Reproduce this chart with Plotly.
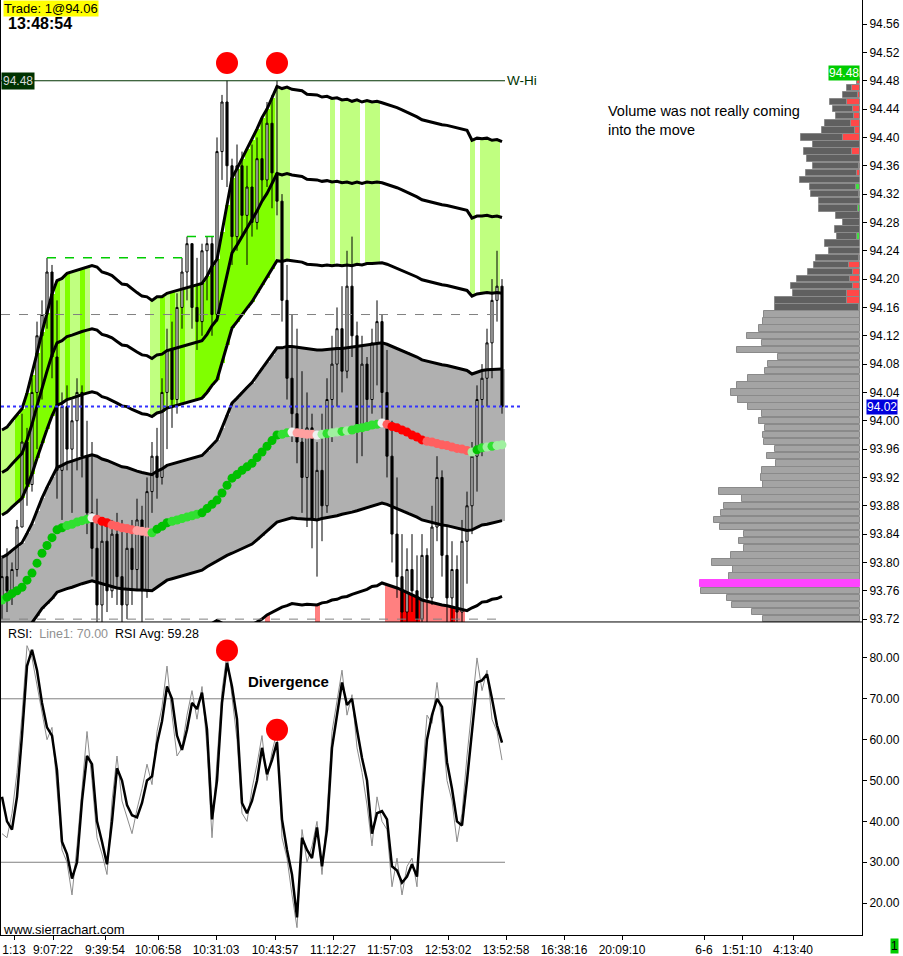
import plotly.graph_objects as go

FONT = 'Liberation Sans'

# ---------------- price bars (one per bar index) ----------------
opens = [93.75, 93.78, 93.76, 93.79, 93.85, 93.97, 93.91, 94.04, 94.12, 94.15,
         94.21, 94.09, 93.93, 94.02, 93.96, 94.00, 94.04, 93.95, 93.87, 93.82,
         93.74, 93.83, 93.76, 93.84, 93.78, 93.74, 93.82, 93.79, 93.86, 93.76,
         93.90, 93.95, 93.92, 94.04, 94.10, 94.03, 94.16, 94.21, 94.25, 94.16,
         94.14, 94.24, 94.25, 94.15, 94.38, 94.45, 94.36, 94.26, 94.36, 94.29,
         94.33, 94.28, 94.37, 94.34, 94.42, 94.35, 94.31, 94.17, 94.06, 94.01,
         93.97, 93.92, 93.99, 93.86, 93.93, 93.88, 94.03, 94.08, 94.13, 94.07,
         94.19, 94.12, 93.99, 94.08, 94.03, 94.11, 94.14, 94.04, 93.95, 93.84,
         93.78, 93.73, 93.79, 93.76, 93.72, 93.81, 93.75, 93.85, 93.92, 93.81,
         93.75, 93.79, 93.73, 93.83, 93.88, 93.95, 94.03, 94.06, 94.11, 94.17,
         94.19]
highs = [93.81, 93.82, 93.80, 93.86, 94.01, 93.99, 94.06, 94.14, 94.17, 94.23,
         94.22, 94.17, 94.04, 94.05, 94.03, 94.06, 94.05, 94.00, 93.97, 93.89,
         93.86, 93.86, 93.86, 93.87, 93.86, 93.85, 93.86, 93.89, 93.88, 93.92,
         93.97, 93.99, 94.06, 94.13, 94.14, 94.18, 94.23, 94.26, 94.25, 94.23,
         94.25, 94.26, 94.26, 94.40, 94.46, 94.48, 94.37, 94.39, 94.38, 94.36,
         94.39, 94.40, 94.43, 94.45, 94.46, 94.48, 94.32, 94.22, 94.15, 94.13,
         94.07, 94.04, 94.01, 93.97, 94.01, 94.06, 94.12, 94.16, 94.19, 94.24,
         94.26, 94.14, 94.12, 94.09, 94.13, 94.17, 94.15, 94.10, 94.00, 93.92,
         93.84, 93.82, 93.84, 93.81, 93.84, 93.82, 93.88, 93.95, 93.93, 93.85,
         93.83, 93.81, 93.86, 93.90, 93.97, 94.05, 94.08, 94.13, 94.20, 94.24,
         94.20]
lows = [93.72, 93.73, 93.74, 93.78, 93.85, 93.88, 93.90, 93.96, 94.03, 94.13,
        94.06, 93.89, 93.86, 93.93, 93.87, 93.93, 93.92, 93.84, 93.78, 93.70,
        93.70, 93.73, 93.75, 93.74, 93.70, 93.72, 93.74, 93.76, 93.70, 93.75,
        93.87, 93.89, 93.91, 93.96, 93.99, 94.01, 94.13, 94.17, 94.13, 94.10,
        94.12, 94.17, 94.12, 94.14, 94.34, 94.33, 94.22, 94.24, 94.26, 94.22,
        94.26, 94.27, 94.31, 94.33, 94.30, 94.29, 94.14, 94.03, 93.97, 93.94,
        93.87, 93.85, 93.82, 93.78, 93.83, 93.87, 93.97, 94.02, 94.04, 94.06,
        94.09, 93.94, 93.95, 93.99, 94.01, 94.05, 94.00, 93.92, 93.80, 93.75,
        93.70, 93.70, 93.73, 93.70, 93.71, 93.70, 93.74, 93.83, 93.78, 93.71,
        93.70, 93.70, 93.71, 93.77, 93.84, 93.90, 93.95, 94.02, 94.06, 94.14,
        94.01]
closes = [93.78, 93.76, 93.79, 93.85, 93.97, 93.91, 94.04, 94.12, 94.15, 94.21,
          94.09, 93.93, 94.02, 93.96, 94.00, 94.04, 93.95, 93.87, 93.82, 93.74,
          93.83, 93.76, 93.84, 93.78, 93.74, 93.82, 93.79, 93.86, 93.76, 93.90,
          93.95, 93.92, 94.04, 94.10, 94.03, 94.16, 94.21, 94.25, 94.16, 94.14,
          94.24, 94.25, 94.15, 94.38, 94.45, 94.36, 94.26, 94.36, 94.29, 94.33,
          94.28, 94.37, 94.34, 94.42, 94.35, 94.31, 94.17, 94.06, 94.01, 93.97,
          93.92, 93.99, 93.86, 93.93, 93.88, 94.03, 94.08, 94.13, 94.07, 94.19,
          94.12, 93.99, 94.08, 94.03, 94.11, 94.14, 94.04, 93.95, 93.84, 93.78,
          93.73, 93.79, 93.76, 93.72, 93.81, 93.75, 93.85, 93.92, 93.81, 93.75,
          93.79, 93.73, 93.83, 93.88, 93.95, 94.03, 94.06, 94.11, 94.17, 94.19,
          94.02]

# VWAP and its standard deviation (one value per bar)
vwap = [93.747, 93.751, 93.756, 93.760, 93.765, 93.775, 93.785, 93.799, 93.813, 93.824,
        93.835, 93.846, 93.849, 93.852, 93.854, 93.857, 93.859, 93.861, 93.863, 93.861,
        93.858, 93.856, 93.853, 93.851, 93.849, 93.848, 93.846, 93.845, 93.844, 93.843,
        93.842, 93.847, 93.851, 93.856, 93.858, 93.860, 93.862, 93.864, 93.866, 93.868,
        93.870, 93.876, 93.882, 93.888, 93.898, 93.909, 93.919, 93.924, 93.930, 93.935,
        93.940, 93.948, 93.956, 93.964, 93.972, 93.980, 93.981, 93.983, 93.984, 93.983,
        93.982, 93.981, 93.981, 93.980, 93.981, 93.982, 93.983, 93.984, 93.985, 93.986,
        93.987, 93.989, 93.990, 93.992, 93.994, 93.995, 93.997, 93.995, 93.992, 93.990,
        93.987, 93.984, 93.980, 93.977, 93.973, 93.971, 93.970, 93.968, 93.966, 93.965,
        93.963, 93.961, 93.960, 93.958, 93.956, 93.959, 93.962, 93.963, 93.964, 93.965,
        93.966]
vwap_sd = [0.060, 0.060, 0.061, 0.062, 0.063, 0.066, 0.070, 0.074, 0.078, 0.082,
           0.086, 0.088, 0.088, 0.089, 0.089, 0.089, 0.089, 0.089, 0.089, 0.089,
           0.088, 0.088, 0.088, 0.087, 0.086, 0.086, 0.085, 0.084, 0.083, 0.083,
           0.082, 0.082, 0.081, 0.081, 0.081, 0.081, 0.081, 0.081, 0.081, 0.081,
           0.081, 0.082, 0.084, 0.085, 0.092, 0.099, 0.106, 0.108, 0.110, 0.112,
           0.114, 0.116, 0.118, 0.119, 0.121, 0.123, 0.122, 0.122, 0.121, 0.121,
           0.121, 0.120, 0.120, 0.120, 0.119, 0.119, 0.118, 0.118, 0.117, 0.117,
           0.116, 0.116, 0.115, 0.115, 0.114, 0.114, 0.113, 0.113, 0.113, 0.113,
           0.113, 0.113, 0.113, 0.113, 0.113, 0.113, 0.113, 0.113, 0.113, 0.113,
           0.113, 0.113, 0.113, 0.113, 0.110, 0.110, 0.109, 0.109, 0.108, 0.108,
           0.107]

# band zone state per bar: 0 none, 1 weak, 2 strong
zone_up = [1, 1, 1, 2, 2, 2, 2, 2, 2, 2,
           2, 2, 1, 2, 1, 1, 2, 1, 0, 0,
           0, 0, 0, 0, 0, 0, 0, 0, 0, 0,
           1, 1, 2, 1, 2, 1, 2, 1, 1, 2,
           2, 2, 2, 2, 2, 2, 2, 2, 2, 2,
           2, 2, 2, 2, 2, 1, 1, 1, 0, 0,
           0, 0, 0, 0, 0, 0, 1, 0, 1, 1,
           1, 1, 0, 1, 1, 1, 0, 0, 0, 0,
           0, 0, 0, 0, 0, 0, 0, 0, 0, 0,
           0, 0, 0, 0, 1, 0, 1, 1, 1, 1,
           0]
zone_dn = [0, 0, 0, 0, 0, 0, 0, 0, 0, 0,
           0, 0, 0, 0, 0, 0, 0, 0, 0, 0,
           0, 0, 0, 0, 0, 0, 0, 0, 0, 0,
           0, 0, 0, 0, 0, 0, 0, 0, 0, 0,
           0, 0, 0, 0, 0, 0, 0, 0, 0, 0,
           0, 0, 0, 1, 0, 0, 0, 0, 0, 0,
           0, 0, 0, 1, 0, 0, 0, 0, 0, 0,
           0, 0, 0, 0, 0, 0, 0, 1, 1, 1,
           2, 2, 2, 2, 1, 1, 1, 1, 1, 1,
           2, 1, 1, 0, 0, 0, 0, 0, 0, 0,
           0]

# RSI pane
rsi_raw = [37, 36, 42, 52, 66, 83, 80, 73, 66, 60,
           63, 48, 33, 30, 22, 34, 48, 62, 50, 36,
           32, 27, 45, 56, 45, 41, 37, 43, 48, 54,
           49, 62, 68, 78, 66, 56, 58, 66, 72, 65,
           73, 58, 36, 55, 72, 81, 70, 60, 42, 40,
           48, 54, 61, 50, 57, 62, 36, 31, 22, 14,
           38, 30, 34, 40, 27, 42, 62, 70, 77, 66,
           71, 58, 52, 44, 34, 46, 40, 38, 24, 31,
           22, 29, 31, 24, 50, 66, 64, 74, 64, 50,
           45, 35, 42, 56, 68, 80, 72, 77, 65, 62,
           55]
rsi_avg = [46, 40, 38, 46, 61, 78, 82, 77, 69, 63,
           61, 52.5, 35, 32, 26, 30, 45, 56, 54, 40,
           35, 29.5, 40, 53, 50, 44, 41.5, 41, 44.5, 50,
           51, 59, 64.5, 73, 70, 61, 57.5, 62.5, 69, 67.5,
           71.5, 62.5, 40.5, 50, 69, 78.8, 73, 65, 44.5, 42,
           45, 50, 58, 51.5, 55, 59.4, 40.5, 33, 27, 16.5,
           36, 33, 31, 38.5, 29, 38, 58, 66.5, 74, 68.5,
           70, 62.5, 55.5, 50, 37, 42, 42.5, 40.5, 29, 28,
           25, 26.5, 29.5, 26.5, 45, 60, 66, 70, 68, 54.5,
           48, 40, 39, 50, 62, 74, 74.5, 76, 70, 63.5,
           59.28]
rsi_levels = [70, 30]

# swing highs that were extended until broken
swing_bars = [9, 37]
swing_ends = [37, 43]
divergence_bars = [45, 55]

# volume profile
vp_prices = [94.48, 94.47, 94.46, 94.45, 94.44, 94.43, 94.42, 94.41, 94.40, 94.39,
             94.38, 94.37, 94.36, 94.35, 94.34, 94.33, 94.32, 94.31, 94.30, 94.29,
             94.28, 94.27, 94.26, 94.25, 94.24, 94.23, 94.22, 94.21, 94.20, 94.19,
             94.18, 94.17, 94.16, 94.15, 94.14, 94.13, 94.12, 94.11, 94.10, 94.09,
             94.08, 94.07, 94.06, 94.05, 94.04, 94.03, 94.02, 94.01, 94.00, 93.99,
             93.98, 93.97, 93.96, 93.95, 93.94, 93.93, 93.92, 93.91, 93.90, 93.89,
             93.88, 93.87, 93.86, 93.85, 93.84, 93.83, 93.82, 93.81, 93.80, 93.79,
             93.78, 93.77, 93.76, 93.75, 93.74, 93.73, 93.72]
vp_volume = [3, 13, 17, 30, 27, 24, 35, 38, 59, 47,
             56, 53, 47, 54, 60, 50, 49, 41, 41, 24,
             17, 25, 23, 35, 31, 44, 46, 52, 63, 69,
             67, 85, 85, 96, 97, 101, 113, 98, 123, 82,
             92, 95, 112, 123, 129, 122, 112, 98, 101, 95,
             97, 96, 85, 93, 84, 98, 99, 97, 141, 118,
             136, 139, 146, 140, 116, 121, 116, 129, 148, 127,
             131, 160, 159, 133, 128, 108, 97]
vp_delta = [-3, -8, -2, -13, -7, -6, -9, -5, -17, 0,
            -8, 0, -1, -3, 0, 4, 1, 0, 2, 0,
            0, 0, 3, 0, 0, -1, -11, -7, -10, -7,
            -13, -13, 1, 0, 0, 0, 0, 0, 0, 0,
            0, 0, 0, 0, 0, 0, 0, 0, 0, 0,
            0, 0, 0, 0, 0, 0, 0, 0, 0, 0,
            0, 0, 0, 0, 0, 0, 0, 0, 0, 0,
            0, 0, 0, 0, 0, 0, 0]
value_area = [94.15, 93.72]

xtick_bars = [2.4, 10.2, 20.6, 31.2, 42.8, 54.6, 66.2, 77.6, 89.2, 100.8,
              112.4, 124.0, 140.4, 148.0, 158.2]
xtick_labels = ['1:13', '9:07:22', '9:39:54', '10:06:58', '10:31:03', '10:43:57',
                '11:12:27', '11:57:03', '12:53:02', '13:52:58', '16:38:16', '20:09:10',
                '6-6', '1:51:10', '4:13:40']

# ---------------- build figure ----------------
n = len(closes)
bars = list(range(n))
x_first, x_last = bars[0] - 0.2, bars[-1] + 0.6
session_high = max(highs)
last_price = closes[-1]

bands = {k: [c + k * s for c, s in zip(vwap, vwap_sd)] for k in (-4, -3, -2, -1, 1, 2, 3, 4)}

fig = go.Figure()

# zone shading between +2/+4 and -2/-4
up_colors = {1: '#c0ff80', 2: '#80ff00'}
dn_colors = {1: '#ff8080', 2: '#ff0000'}
fig.add_trace(go.Bar(
    x=bars, y=[2 * s if z else None for s, z in zip(vwap_sd, zone_up)], base=bands[2],
    width=1, marker=dict(color=[up_colors.get(z, 'white') for z in zone_up], line_width=0),
    hoverinfo='skip', showlegend=False))
fig.add_trace(go.Bar(
    x=bars, y=[2 * s if z else None for s, z in zip(vwap_sd, zone_dn)], base=bands[-4],
    width=1, marker=dict(color=[dn_colors.get(z, 'white') for z in zone_dn], line_width=0),
    hoverinfo='skip', showlegend=False))
# gray fill between the 1 sd bands
fig.add_trace(go.Bar(
    x=bars, y=[2 * s for s in vwap_sd], base=bands[-1], width=1,
    marker=dict(color='#b0b0b0', line_width=0), hoverinfo='skip', showlegend=False))

# candles
fig.add_trace(go.Candlestick(
    x=bars, open=opens, high=highs, low=lows, close=closes,
    increasing=dict(line=dict(color='black', width=1), fillcolor='white'),
    decreasing=dict(line=dict(color='black', width=1), fillcolor='black'),
    whiskerwidth=0, showlegend=False, hoverinfo='skip'))

# band lines
for k, vals in bands.items():
    fig.add_trace(go.Scatter(x=bars, y=vals, mode='lines', line=dict(color='black', width=3),
                             hoverinfo='skip', showlegend=False))

# horizontal reference lines
fig.add_trace(go.Scatter(x=[x_first, x_last], y=[session_high] * 2, mode='lines',
                         line=dict(color='#003300', width=1), showlegend=False, hoverinfo='skip'))
for lvl in value_area:
    fig.add_trace(go.Scatter(x=[x_first, x_last], y=[lvl] * 2, mode='lines',
                             line=dict(color='#808080', width=1, dash='dash'),
                             showlegend=False, hoverinfo='skip'))
fig.add_trace(go.Scatter(x=[x_first, x_last + 3.6], y=[last_price] * 2, mode='lines',
                         line=dict(color='#3333ff', width=2, dash='dot'),
                         showlegend=False, hoverinfo='skip'))
for b, e in zip(swing_bars, swing_ends):
    fig.add_trace(go.Scatter(x=[b, e], y=[highs[b]] * 2, mode='lines',
                             line=dict(color='#00cc00', width=1.5, dash='dash'),
                             showlegend=False, hoverinfo='skip'))


# VWAP dots coloured by slope
def slope_color(i):
    d = vwap[min(i + 1, n - 1)] - vwap[max(i - 1, 0)]
    if d > 0.006:
        return '#00c000'
    if d > 0.002:
        return '#30e030'
    if d > 0.0006:
        return '#a0f0a0'
    if d >= -0.0006:
        return '#f0f0f0'
    if d > -0.003:
        return '#ffa0a0'
    if d > -0.005:
        return '#ff6060'
    return '#ff0000'


fig.add_trace(go.Scatter(x=bars, y=vwap, mode='markers',
                         marker=dict(size=9, color=[slope_color(i) for i in bars], line_width=0),
                         showlegend=False, hoverinfo='skip'))

# divergence dots
fig.add_trace(go.Scatter(x=divergence_bars, y=[highs[b] + 0.025 for b in divergence_bars],
                         mode='markers', marker=dict(size=22, color='#ff0000'),
                         showlegend=False, hoverinfo='skip'))

# RSI pane
for lvl in rsi_levels:
    fig.add_trace(go.Scatter(x=[x_first, x_last], y=[lvl] * 2, mode='lines', yaxis='y2',
                             line=dict(color='#808080', width=1), showlegend=False, hoverinfo='skip'))
fig.add_trace(go.Scatter(x=bars, y=rsi_raw, mode='lines', yaxis='y2',
                         line=dict(color='#8c8c8c', width=1), showlegend=False, hoverinfo='skip'))
fig.add_trace(go.Scatter(x=bars, y=rsi_avg, mode='lines', yaxis='y2',
                         line=dict(color='black', width=2.5), showlegend=False, hoverinfo='skip'))
fig.add_trace(go.Scatter(x=divergence_bars, y=[rsi_avg[b] + 3 for b in divergence_bars],
                         mode='markers', yaxis='y2', marker=dict(size=22, color='#ff0000'),
                         showlegend=False, hoverinfo='skip'))

# volume profile (drawn from the right edge leftwards)
poc = vp_volume.index(max(vp_volume))
gray = ['#ff44ff' if i == poc else ('#606060' if p > value_area[0] else '#a4a4a4')
        for i, p in enumerate(vp_prices)]
fig.add_trace(go.Bar(
    y=vp_prices, x=[abs(d) if d else None for d in vp_delta], base=0, orientation='h',
    width=0.0092, xaxis='x3', yaxis='y',
    marker=dict(color=['#ff4848' if d < 0 else '#40e040' for d in vp_delta],
                line=dict(color='#8a8a8a', width=1)),
    showlegend=False, hoverinfo='skip'))
fig.add_trace(go.Bar(
    y=vp_prices, x=[v - abs(d) for v, d in zip(vp_volume, vp_delta)],
    base=[abs(d) for d in vp_delta], orientation='h', width=0.0092, xaxis='x3', yaxis='y',
    marker=dict(color=gray, line=dict(color=['#ff44ff' if i == poc else '#8a8a8a'
                                              for i in range(len(vp_prices))], width=1)),
    showlegend=False, hoverinfo='skip'))

split = 0.3348
axis_font = dict(family=FONT, size=12, color='black')
fig.update_layout(
    width=903, height=956,
    margin=dict(l=1, r=41, t=0, b=21),
    paper_bgcolor='white', plot_bgcolor='white',
    font=dict(family=FONT, size=12, color='black'),
    barmode='overlay', bargap=0, boxgap=0.4,
    showlegend=False,
    xaxis=dict(domain=[0, 1], range=[-0.2, 172.0], anchor='y2',
               tickvals=xtick_bars, ticktext=xtick_labels, tickfont=axis_font,
               ticks='outside', ticklen=4, tickcolor='black',
               showline=True, linecolor='black', linewidth=1,
               showgrid=False, zeroline=False, rangeslider=dict(visible=False)),
    xaxis3=dict(overlaying='x', range=[859, -2], visible=False, anchor='y'),
    yaxis=dict(domain=[split, 1], range=[93.716, 94.594], side='right', anchor='x',
               tick0=93.72, dtick=0.04, tickformat='.2f', tickfont=axis_font,
               ticks='outside', ticklen=4, tickcolor='black',
               showline=True, linecolor='black', linewidth=1, mirror=True,
               showgrid=False, zeroline=False),
    yaxis2=dict(domain=[0, split], range=[12.2, 88.8], side='right', anchor='x',
                tick0=20, dtick=10, tickformat='.2f', tickfont=axis_font,
                ticks='outside', ticklen=4, tickcolor='black',
                showline=True, linecolor='black', linewidth=1, mirror=True,
                showgrid=False, zeroline=False),
    shapes=[dict(type='line', xref='paper', yref='paper', x0=0, x1=1, y0=split, y1=split,
                 line=dict(color='black', width=1))],
)

nb = '\u00a0'
annotations = [
    dict(text='Trade: 1@94.06', x=0.0023, y=1.0, xanchor='left', yanchor='top',
         bgcolor='#ffff00', borderpad=0, font=dict(size=13)),
    dict(text='<b>13:48:54</b>', x=0.0058, y=0.986, xanchor='left', yanchor='top',
         font=dict(size=16)),
    dict(text='Volume was not really coming<br>into the move', x=0.7027, y=0.892,
         xanchor='left', yanchor='top', align='left', font=dict(size=14.5)),
    dict(text=f'RSI:{nb}{nb}<span style="color:#909090">Line1:{nb}70.00</span>{nb}{nb}'
              f'RSI{nb}Avg:{nb}{rsi_avg[-1]:.2f}',
         x=0.0058, y=0.3316, xanchor='left', yanchor='top', font=dict(size=12.5)),
    dict(text='<b>Divergence</b>', x=0.2846, y=0.2824, xanchor='left', yanchor='top',
         font=dict(size=15)),
    dict(text='www.sierrachart.com', x=0.0, y=0.016, xanchor='left', yanchor='top',
         font=dict(size=13)),
    dict(text='1', x=1.0383, y=-0.0115, xanchor='center', yanchor='middle',
         bgcolor='#00cc00', borderpad=0, font=dict(size=12)),
    dict(text=f'{session_high:.2f}', xref='paper', yref='y', x=0, y=session_high,
         xanchor='left', yanchor='middle', bgcolor='#003300', borderpad=1,
         font=dict(size=12, color='#d8d8d8')),
    dict(text='W-Hi', xref='x', yref='y', x=x_last, y=session_high, xanchor='left',
         yanchor='middle', font=dict(size=13.5, color='#003300')),
    dict(text=f'{session_high:.2f}', xref='paper', yref='y', x=0.9977, y=session_high,
         xanchor='right', yanchor='bottom', bgcolor='#00cc00', borderpad=0,
         font=dict(size=12, color='white')),
    dict(text=f'{last_price:.2f}', xref='paper', yref='y', x=1.0, xshift=4, y=last_price,
         xanchor='left', yanchor='middle', bgcolor='#0000dd', borderpad=0,
         font=dict(size=12, color='white')),
]
for a in annotations:
    a.setdefault('xref', 'paper')
    a.setdefault('yref', 'paper')
    a['showarrow'] = False
    a['font'] = dict(family=FONT, color=a['font'].get('color', 'black'), size=a['font']['size'])
fig.update_layout(annotations=annotations)

# drop the default page margin so the chart fills the window exactly
fig.write_html('out.html', config={'displayModeBar': False},
               post_script="document.body.style.margin='0';")
